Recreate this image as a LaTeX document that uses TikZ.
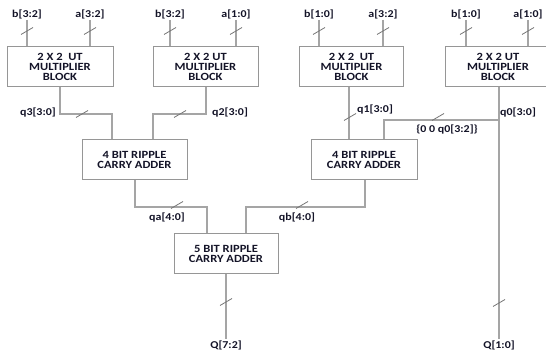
\documentclass[tikz,border=0pt]{standalone}
\usepackage{fontspec}
\setmainfont{Carlito}[FakeStretch=1.14]
\definecolor{wirecol}{RGB}{165,165,165}
\definecolor{boxcol}{RGB}{150,150,150}
\definecolor{slashcol}{RGB}{120,120,120}
\definecolor{txtcol}{RGB}{20,20,40}
\begin{document}
\begin{tikzpicture}[x=1pt,y=-1pt,
  wire/.style={draw=wirecol, line width=1.3pt},
  blk/.style={draw=boxcol, line width=1pt, fill=white, minimum height=40pt,
    align=center, text=txtcol, font=\bfseries\fontsize{11}{10}\selectfont, inner sep=0pt},
  lbl/.style={text=txtcol, font=\bfseries\fontsize{10.5}{10}\selectfont, inner sep=1pt},
  slashline/.style={draw=slashcol, line width=0.8pt},
  pics/slash/.style={code={\draw[slashline] (-6,3.5) -- (6,-3.5);}}]
\clip (0,0) rectangle (546,352);
\fill[white] (0,0) rectangle (546,352);

% multiplier blocks
\node[blk, minimum width=106pt] (m1) at (60,67) {2 X 2\ \ UT\\MULTIPLIER\\BLOCK};
\node[blk, minimum width=105pt] (m2) at (205.5,67) {2 X 2 UT\\MULTIPLIER\\BLOCK};
\node[blk, minimum width=104pt] (m3) at (351.5,67) {2 X 2\ \ UT\\MULTIPLIER\\BLOCK};
\node[blk, minimum width=106pt] (m4) at (498,67) {2 X 2 UT\\MULTIPLIER\\BLOCK};

% adders
\node[blk, minimum width=105pt] (a1) at (134.5,160) {4 BIT RIPPLE\\CARRY ADDER};
\node[blk, minimum width=106pt] (a2) at (364,160) {4 BIT RIPPLE\\CARRY ADDER};
\node[blk, minimum width=104pt] (a3) at (226,253.5) {5 BIT RIPPLE\\CARRY ADDER};

% inputs
\foreach \nm/\x/\txt/\blkname in {i1/27/b[3:2]/m1, i2/90/a[3:2]/m1, i3/170/b[3:2]/m2, i4/236/a[1:0]/m2,
    i5/319/b[1:0]/m3, i6/383/a[3:2]/m3, i7/466/b[1:0]/m4, i8/528/a[1:0]/m4}{
  \coordinate (\nm) at (\x,20);
  \node[lbl, anchor=south] (l\nm) at (\nm) {\txt};
  \draw[wire] (\nm) -- (\nm |- \blkname.north);
  \pic at (\x,31) {slash};
}

% q3 and q2 into adder a1
\coordinate (q3a) at (60,114);
\coordinate (q3b) at (112,114);
\draw[wire] (q3a |- m1.south) -- (q3a) -- (q3b) -- (q3b |- a1.north);
\pic at (82,114) {slash};
\node[lbl, anchor=east] (lq3) at (57,112) {q3[3:0]};

\coordinate (q2a) at (206,114);
\coordinate (q2b) at (153,114);
\draw[wire] (q2a |- m2.south) -- (q2a) -- (q2b) -- (q2b |- a1.north);
\pic at (180,114) {slash};
\node[lbl, anchor=west] (lq2) at (211,112) {q2[3:0]};

% q1 into adder a2
\coordinate (q1a) at (349,100);
\draw[wire] (q1a |- m3.south) -- (q1a |- a2.north);
\pic at (350,117) {slash};
\node[lbl, anchor=west] (lq1) at (356,109) {q1[3:0]};

% q0
\coordinate (q0a) at (499,120);
\coordinate (q0b) at (384,120);
\node[lbl] (Ql) at (499,345) {Q[1:0]};
\draw[wire] (q0a |- m4.south) -- (Ql.north);
\draw[wire] (q0a) -- (q0b) -- (q0b |- a2.north);
\pic at (438,117) {slash};
\pic at (499,303) {slash};
\node[lbl, anchor=west] (lq0) at (499,112) {q0[3:0]};
\node[lbl] (lq0s) at (447,129) {\{0 0 q0[3:2]\}};

% qa, qb into a3
\coordinate (qaa) at (135,207);
\coordinate (qab) at (207,207);
\draw[wire] (qaa |- a1.south) -- (qaa) -- (qab) -- (qab |- a3.north);
\pic at (177,205) {slash};
\node[lbl] (lqa) at (167,217) {qa[4:0]};

\coordinate (qba) at (365,207);
\coordinate (qbb) at (246,207);
\draw[wire] (qba |- a2.south) -- (qba) -- (qbb) -- (qbb |- a3.north);
\pic at (302,205) {slash};
\node[lbl] (lqb) at (297,217) {qb[4:0]};

% output
\node[lbl] (Qh) at (226,345) {Q[7:2]};
\draw[wire] (a3.south) -- (Qh.north);
\pic at (226,302) {slash};
\end{tikzpicture}
\end{document}
